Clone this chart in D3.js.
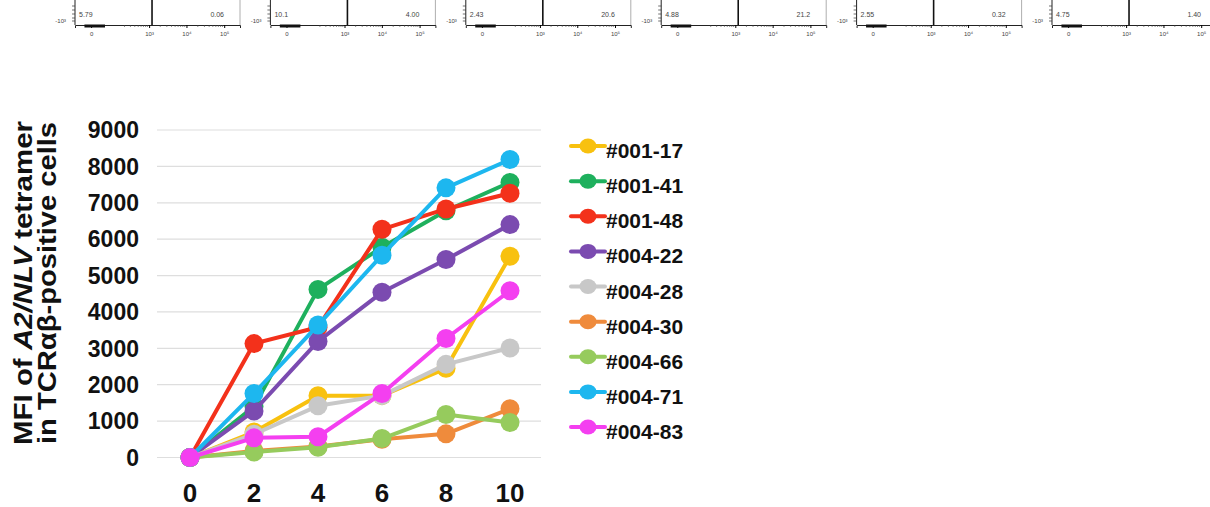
<!DOCTYPE html>
<html>
<head>
<meta charset="utf-8">
<script src="https://cdn.jsdelivr.net/npm/d3@7"></script>
<style>
  body { margin: 0; background: #fff; }
  svg { display: block; font-family: "Liberation Sans", Arial, sans-serif; }
</style>
</head>
<body>
<div id="chart"></div>
<script>
// data
const days = [0, 2, 4, 6, 8, 10];
const donors = ["#001-17", "#001-41", "#001-48", "#004-22", "#004-28", "#004-30", "#004-66", "#004-71", "#004-83"];
const mfi_001_17 = [0, 700, 1700, 1700, 2450, 5530];
const mfi_001_41 = [0, 1400, 4620, 5780, 6780, 7560];
const mfi_001_48 = [0, 3130, 3580, 6270, 6830, 7260];
const mfi_004_22 = [0, 1280, 3190, 4540, 5440, 6400];
const mfi_004_28 = [0, 640, 1420, 1700, 2560, 3010];
const mfi_004_30 = [0, 180, 300, 500, 650, 1340];
const mfi_004_66 = [0, 150, 280, 520, 1180, 960];
const mfi_004_71 = [0, 1760, 3640, 5560, 7410, 8190];
const mfi_004_83 = [0, 540, 570, 1760, 3270, 4580];
const yTicks = [0, 1000, 2000, 3000, 4000, 5000, 6000, 7000, 8000, 9000];

// cropped flow panels on top
const panelLeftPct = ["5.79", "10.1", "2.43", "4.88", "2.55", "4.75"];
const panelRightPct = ["0.06", "4.00", "20.6", "21.2", "0.32", "1.40"];
const flowTicks = [0, 1e3, 1e4, 1e5];
const flowTickText = ["0", "10³", "10⁴", "10⁵"];

const colors = ["#f8c10f", "#1eb05d", "#f3311b", "#7b4bb0", "#c8c8c8", "#ef8b3c", "#96cb5d", "#1db7ef", "#f43ff0"];
const series = [mfi_001_17, mfi_001_41, mfi_001_48, mfi_004_22, mfi_004_28, mfi_004_30, mfi_004_66, mfi_004_71, mfi_004_83];

const svg = d3.select("#chart").append("svg").attr("width", 1210).attr("height", 507);

// ---- top strip ----
let panelX = d3.scaleLinear().domain([0, 5]).range([75, 1052]);
let flowX = d3.scaleSymlog().constant(30).domain([-50, 262144]).range([0, 165]);

panelLeftPct.forEach(function(p, i) {
  let g = svg.append("g").attr("transform", `translate(${panelX(i)},0)`);
  // frame
  g.append("line").attr("x1", 0).attr("x2", 0).attr("y1", 0).attr("y2", 25).attr("stroke", "#222").attr("stroke-width", 1);
  g.append("line").attr("x1", 165).attr("x2", 165).attr("y1", 0).attr("y2", 25).attr("stroke", "#999").attr("stroke-width", 0.8);
  g.append("line").attr("x1", flowX(1200)).attr("x2", flowX(1200)).attr("y1", 0).attr("y2", 25).attr("stroke", "#111").attr("stroke-width", 1.6);
  // bottom axis
  let ax = g.append("g").attr("transform", "translate(0,25)")
    .call(d3.axisBottom(flowX).tickValues(flowTicks).tickSize(3).tickFormat((d, k) => flowTickText[k]));
  ax.select(".domain").attr("stroke", "#222");
  ax.selectAll("text").attr("font-size", 6).attr("fill", "#444").attr("dy", "0.9em");
  let minor = [];
  [1e2, 1e3, 1e4].forEach(dec => d3.range(2, 10).forEach(m => minor.push(dec * m)));
  ax.selectAll(".minor").data(minor).enter().append("line")
    .attr("x1", d => flowX(d)).attr("x2", d => flowX(d)).attr("y1", 0).attr("y2", 2).attr("stroke", "#444").attr("stroke-width", 0.6);
  // event pile near zero
  g.append("line").attr("x1", flowX(-15)).attr("x2", flowX(40)).attr("y1", 26).attr("y2", 26)
    .attr("stroke", "#111").attr("stroke-width", 3);
  // left axis bits
  [6, 10, 14, 18, 21].forEach(y => g.append("line").attr("x1", -3).attr("x2", 0).attr("y1", y).attr("y2", y).attr("stroke", "#333").attr("stroke-width", 0.7));
  g.append("text").attr("x", -9).attr("y", 23).attr("text-anchor", "end").attr("font-size", 6).attr("fill", "#444").text("-10³");
  // percentages
  g.append("text").attr("x", 4).attr("y", 17).attr("font-size", 7).attr("fill", "#444").text(p);
  g.append("text").attr("x", 149).attr("y", 17).attr("text-anchor", "end").attr("font-size", 7).attr("fill", "#444").text(panelRightPct[i]);
});

// ---- main line chart ----
let x = d3.scaleLinear().domain([0, 10]).range([190, 510]);
let y = d3.scaleLinear().domain([0, 9000]).range([457.5, 130]);

// grid
svg.append("g").selectAll("line").data(yTicks).enter().append("line")
  .attr("x1", 157).attr("x2", 541)
  .attr("y1", d => y(d)).attr("y2", d => y(d))
  .attr("stroke", "#dedede").attr("stroke-width", 1.2);

// y labels
svg.append("g").selectAll("text").data(yTicks).enter().append("text")
  .attr("x", 139).attr("y", d => y(d)).attr("dy", "0.36em")
  .attr("text-anchor", "end").attr("font-size", 23).attr("font-weight", "bold").attr("fill", "#111")
  .text(d => d);

// x labels
svg.append("g").selectAll("text").data(days).enter().append("text")
  .attr("x", d => x(d)).attr("y", 502)
  .attr("text-anchor", "middle").attr("font-size", 26).attr("font-weight", "bold").attr("fill", "#111")
  .text(d => d);

// y title (two lines, stretched along the text like the original)
let title = svg.append("g").attr("font-size", 26).attr("font-weight", "bold").attr("fill", "#111").attr("text-anchor", "middle");
let t1 = title.append("text").attr("transform", "translate(32,283) rotate(-90)")
  .attr("textLength", 324).attr("lengthAdjust", "spacingAndGlyphs");
t1.append("tspan").text("MFI of ");
t1.append("tspan").attr("font-style", "italic").text("A2/NLV");
t1.append("tspan").text(" tetramer");
title.append("text").attr("transform", "translate(56,283) rotate(-90)")
  .attr("textLength", 322).attr("lengthAdjust", "spacingAndGlyphs")
  .text("in TCRαβ-positive cells");

// series
let line = d3.line().x((d, i) => x(days[i])).y(d => y(d));
series.forEach(function(vals, s) {
  let g = svg.append("g");
  g.append("path").attr("d", line(vals)).attr("fill", "none")
    .attr("stroke", colors[s]).attr("stroke-width", 4).attr("stroke-linejoin", "round");
  g.selectAll("circle").data(vals).enter().append("circle")
    .attr("cx", (d, i) => x(days[i])).attr("cy", d => y(d)).attr("r", 9.5)
    .attr("fill", colors[s]);
});

// legend
let legY = d3.scaleLinear().domain([0, 8]).range([146, 427]);
donors.forEach(function(name, i) {
  let g = svg.append("g").attr("transform", `translate(0,${legY(i)})`);
  g.append("line").attr("x1", 571).attr("x2", 605).attr("y1", 0).attr("y2", 0)
    .attr("stroke", colors[i]).attr("stroke-width", 4).attr("stroke-linecap", "round");
  g.append("ellipse").attr("cx", 588).attr("cy", 0).attr("rx", 8.5).attr("ry", 7.5).attr("fill", colors[i]);
  g.append("text").attr("x", 606).attr("y", 12).attr("font-size", 21).attr("font-weight", "bold")
    .attr("fill", "#111").text(name);
});
</script>
</body>
</html>
